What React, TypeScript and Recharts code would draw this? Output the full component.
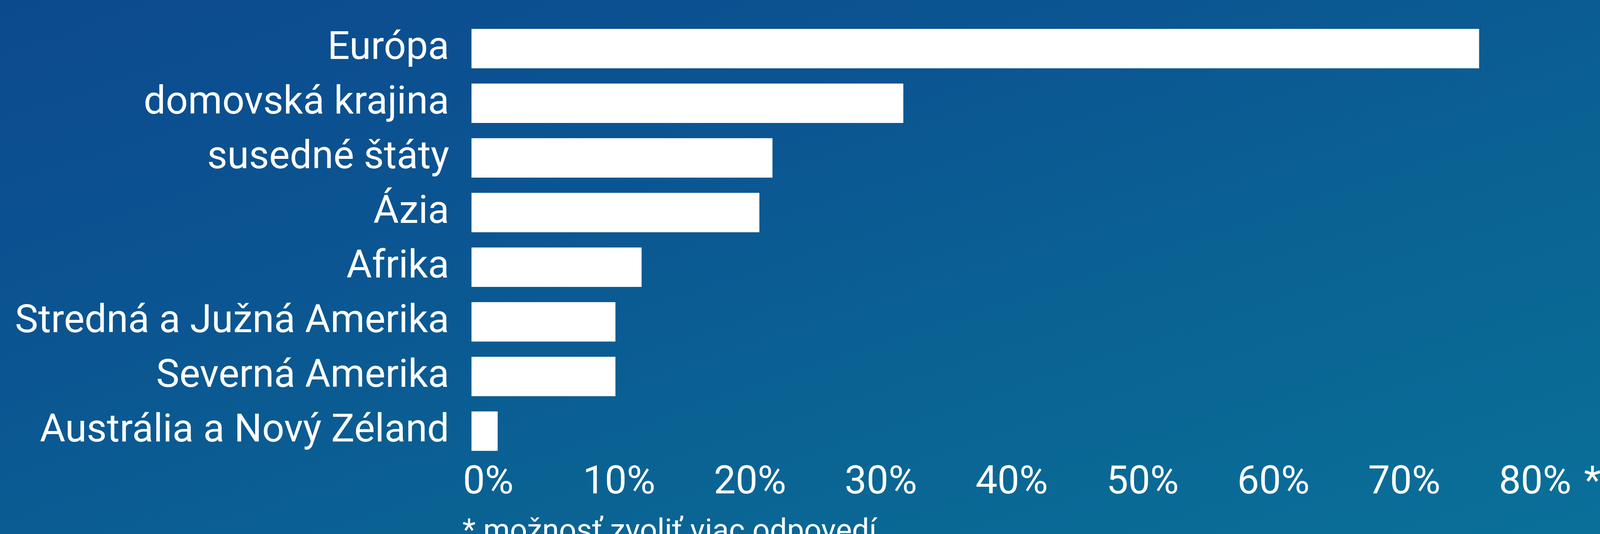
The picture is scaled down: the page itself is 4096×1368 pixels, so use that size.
import React from 'react';
import { BarChart, Bar, XAxis, YAxis } from 'recharts';

// destinations, share of answers (%), multiple answers allowed
const regions = [
  'Európa',
  'domovská krajina',
  'susedné štáty',
  'Ázia',
  'Afrika',
  'Stredná a Južná Amerika',
  'Severná Amerika',
  'Austrália a Nový Zéland',
];
const shares = [77, 33, 23, 22, 13, 11, 11, 2];
const percentTicks = [0, 10, 20, 30, 40, 50, 60, 70, 80];
const footnote = '* možnosť zvoliť viac odpovedí';

const data = regions.map((region, i) => ({ region, share: shares[i] }));

const WIDTH = 4096;
const HEIGHT = 1368;
const FONT = 'Roboto, "Noto Sans", sans-serif';
const LAST_TICK = percentTicks[percentTicks.length - 1];

const RegionTick = ({ x, y, payload }: any) => (
  <text x={x} y={y} dy={27} textAnchor="end" fill="#ffffff" fontSize={100} fontFamily={FONT}>
    {payload.value}
  </text>
);

const PercentTick = ({ x, y, payload }: any) => (
  <g>
    <text x={x + 43} y={y} dy={90} textAnchor="middle" fill="#ffffff" fontSize={100} fontFamily={FONT}>
      {`${payload.value}%`}
    </text>
    {payload.value === LAST_TICK && (
      <text x={x + 168} y={y} dy={90} textAnchor="start" fill="#ffffff" fontSize={100} fontFamily={FONT}>
        *
      </text>
    )}
  </g>
);

const App: React.FC = () => {
  return (
    <div
      style={{
        position: 'absolute',
        left: 0,
        top: 0,
        width: WIDTH,
        height: HEIGHT,
        overflow: 'hidden',
        background: 'linear-gradient(to bottom right, #0c4a8e 0%, #0b5592 35%, #0a6393 65%, #0a7099 100%)',
      }}
    >
      <BarChart
        width={WIDTH}
        height={HEIGHT}
        data={data}
        layout="vertical"
        margin={{ top: 54, right: 209, bottom: 0, left: 0 }}
      >
        <XAxis
          type="number"
          domain={[0, 80]}
          ticks={percentTicks}
          interval={0}
          height={194}
          axisLine={false}
          tickLine={false}
          tickSize={0}
          tickMargin={0}
          tick={<PercentTick />}
        />
        <YAxis
          type="category"
          dataKey="region"
          width={1207}
          axisLine={false}
          tickLine={false}
          tickSize={0}
          tickMargin={57}
          interval={0}
          tick={<RegionTick />}
        />
        <Bar dataKey="share" fill="#ffffff" barSize={101} isAnimationActive={false} />
      </BarChart>
      <svg
        width={WIDTH}
        height={HEIGHT}
        style={{ position: 'absolute', left: 0, top: 0, pointerEvents: 'none' }}
      >
        <text x={1184} y={1384} fill="#ffffff" fontSize={78} fontFamily={FONT}>
          {footnote}
        </text>
      </svg>
    </div>
  );
};

export default App;
